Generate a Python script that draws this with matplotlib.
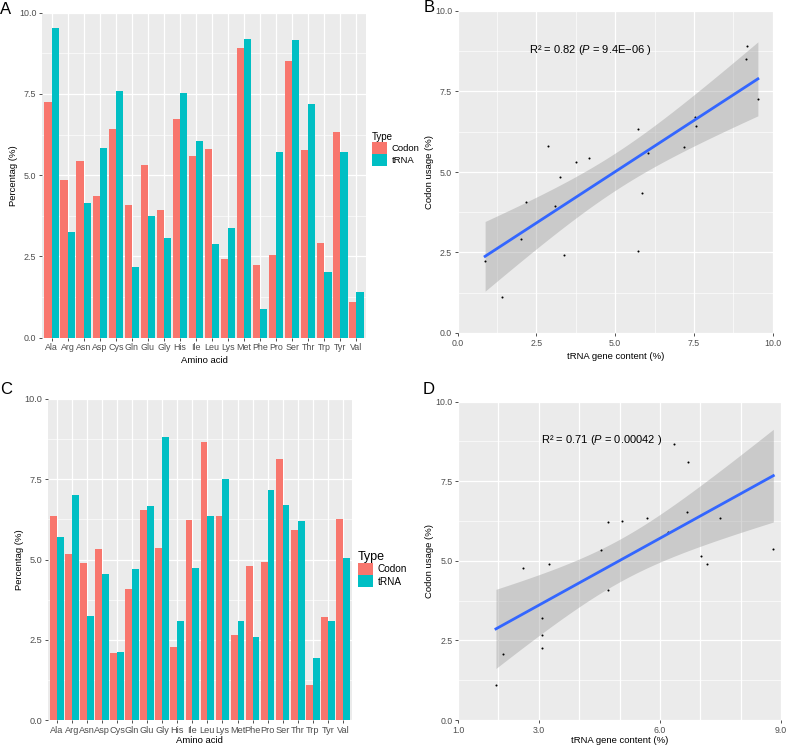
import numpy as np
import matplotlib
matplotlib.use("Agg")
import matplotlib.pyplot as plt
from matplotlib.ticker import FixedLocator

plt.rcParams["font.family"] = ["Liberation Sans", "DejaVu Sans"]
plt.rcParams["mathtext.fontset"] = "custom"
plt.rcParams["mathtext.rm"] = "Liberation Sans"
plt.rcParams["mathtext.it"] = "Liberation Sans:italic"

amino = ["Ala", "Arg", "Asn", "Asp", "Cys", "Gln", "Glu", "Gly", "His", "Ile",
         "Leu", "Lys", "Met", "Phe", "Pro", "Ser", "Thr", "Trp", "Tyr", "Val"]

# panel A / B data
codon_a = [7.26, 4.84, 5.44, 4.36, 6.43, 4.07, 5.31, 3.93, 6.72, 5.58,
           5.82, 2.41, 8.90, 2.23, 2.54, 8.50, 5.79, 2.91, 6.34, 1.11]
trna_a = [9.53, 3.26, 4.16, 5.85, 7.58, 2.18, 3.74, 3.08, 7.52, 6.05,
          2.87, 3.39, 9.18, 0.87, 5.71, 9.16, 7.19, 2.02, 5.71, 1.41]

# panel C / D data
codon_c = [6.36, 5.16, 4.89, 5.33, 2.08, 4.09, 6.55, 5.37, 2.27, 6.23,
           8.67, 6.36, 2.66, 4.79, 4.91, 8.12, 5.92, 1.10, 3.22, 6.25]
trna_c = [5.69, 7.01, 3.25, 4.55, 2.11, 4.71, 6.68, 8.81, 3.08, 4.72,
          6.36, 7.50, 3.08, 2.60, 7.17, 6.69, 6.20, 1.94, 3.08, 5.05]

label_b = "R² = 0.82 ($\\it{P}$ = 9.4E−06 )"
label_d = "R² = 0.71 ($\\it{P}$ = 0.00042 )"

CODON = "#F8766D"
TRNA = "#00BFC4"
W, H = 787, 746

fig = plt.figure(figsize=(W / 100, H / 100), dpi=100)


def px_axes(l, t, r, b):
    return fig.add_axes([l / W, 1 - b / H, (r - l) / W, (b - t) / H])


def gg(ax, size=6):
    ax.set_facecolor("#EBEBEB")
    for s in ax.spines.values():
        s.set_visible(False)
    ax.tick_params(which="major", length=2.5, width=0.6, color="#333333",
                   labelsize=size, labelcolor="#4D4D4D", pad=1.5)
    ax.tick_params(which="minor", length=0)
    ax.set_axisbelow(True)


def bar_panel(ax, codon, trna, fs, legsize, titlesize, legy, keysize, xpad):
    gg(ax, fs)
    x = np.arange(len(amino))
    ax.bar(x - 0.225, codon, width=0.45, color=CODON, label="Codon")
    ax.bar(x + 0.225, trna, width=0.45, color=TRNA, label="tRNA")
    ax.set_xlim(-0.6, len(amino) - 0.4)
    ax.set_ylim(0, 10)
    ax.set_xticks(x)
    ax.set_xticklabels(amino)
    ax.set_yticks([0, 2.5, 5, 7.5, 10])
    ax.set_yticklabels(["0.0", "2.5", "5.0", "7.5", "10.0"])
    ax.yaxis.set_minor_locator(FixedLocator([1.25, 3.75, 6.25, 8.75]))
    ax.xaxis.grid(True, which="major", color="white", lw=0.9)
    ax.yaxis.grid(True, which="major", color="white", lw=0.9)
    ax.yaxis.grid(True, which="minor", color="white", lw=0.45)
    ax.set_xlabel("Amino acid", fontsize=6.8, labelpad=xpad)
    ax.set_ylabel("Percentag (%)", fontsize=6.8, labelpad=0.5)
    ax.legend(title="Type", loc="center left", bbox_to_anchor=(1.0, legy),
              frameon=False, fontsize=legsize, title_fontsize=titlesize,
              handlelength=keysize, handleheight=keysize, handletextpad=0.5,
              labelspacing=0.0, borderaxespad=0.2, alignment="left")


def scatter_panel(ax, xs, ys, label, tx, ty, xlim, xticks, xlabels, xminor, xpad):
    gg(ax, 6.3)
    xs = np.asarray(xs)
    ys = np.asarray(ys)
    ax.scatter(xs, ys, s=2.2, color="black", zorder=3, linewidths=0)
    # linear fit with 95% confidence band (like geom_smooth(method = "lm"))
    n = len(xs)
    b1, b0 = np.polyfit(xs, ys, 1)
    resid = ys - (b0 + b1 * xs)
    s = np.sqrt(np.sum(resid ** 2) / (n - 2))
    sxx = np.sum((xs - xs.mean()) ** 2)
    xx = np.linspace(xs.min(), xs.max(), 100)
    fit = b0 + b1 * xx
    se = s * np.sqrt(1 / n + (xx - xs.mean()) ** 2 / sxx)
    t = 2.100922
    ax.fill_between(xx, fit - t * se, fit + t * se, color="#999999", alpha=0.4,
                    lw=0, zorder=2)
    ax.plot(xx, fit, color="#3366FF", lw=2.0, zorder=4)
    ax.set_xlim(*xlim)
    ax.set_ylim(0, 10)
    ax.set_xticks(xticks)
    ax.set_xticklabels(xlabels)
    ax.set_yticks([0, 2.5, 5, 7.5, 10])
    ax.set_yticklabels(["0.0", "2.5", "5.0", "7.5", "10.0"])
    ax.xaxis.set_minor_locator(FixedLocator(xminor))
    ax.yaxis.set_minor_locator(FixedLocator([1.25, 3.75, 6.25, 8.75]))
    ax.grid(True, which="major", color="white", lw=0.9)
    ax.grid(True, which="minor", color="white", lw=0.45)
    ax.text(tx, ty, label, ha="center", va="center", fontsize=8)
    ax.set_xlabel("tRNA gene content (%)", fontsize=6.8, labelpad=xpad)
    ax.set_ylabel("Codon usage (%)", fontsize=6.8, labelpad=1)


axA = px_axes(42, 12.7, 366, 337.7)
bar_panel(axA, codon_a, trna_a, fs=6.4, legsize=6.8, titlesize=7,
          legy=0.58, keysize=1.6, xpad=3)

axB = px_axes(457.7, 11, 772.7, 333)
scatter_panel(axB, trna_a, codon_a, label_b, 4.2, 8.8, (0, 10),
              [0, 2.5, 5, 7.5, 10], ["0.0", "2.5", "5.0", "7.5", "10.0"],
              [1.25, 3.75, 6.25, 8.75], 3)

axC = px_axes(47.7, 399, 352, 720)
bar_panel(axC, codon_c, trna_c, fs=6.6, legsize=7.2, titlesize=9,
          legy=0.47, keysize=1.5, xpad=1)

axD = px_axes(458, 401.7, 781, 720)
scatter_panel(axD, trna_c, codon_c, label_d, 4.55, 8.8, (1, 9),
              [1, 3, 6, 9], ["1.0", "3.0", "6.0", "9.0"],
              [2, 4, 5, 7, 8], 1)
axD.xaxis.grid(True, which="minor", color="white", lw=0.9)

for letter, x, y in [("A", 0, 10), ("B", 424, 8), ("C", 0, 390), ("D", 423, 390)]:
    fig.text(x / W, 1 - y / H, letter, fontsize=12, ha="left", va="center")

fig.savefig("out.png", dpi=100)
